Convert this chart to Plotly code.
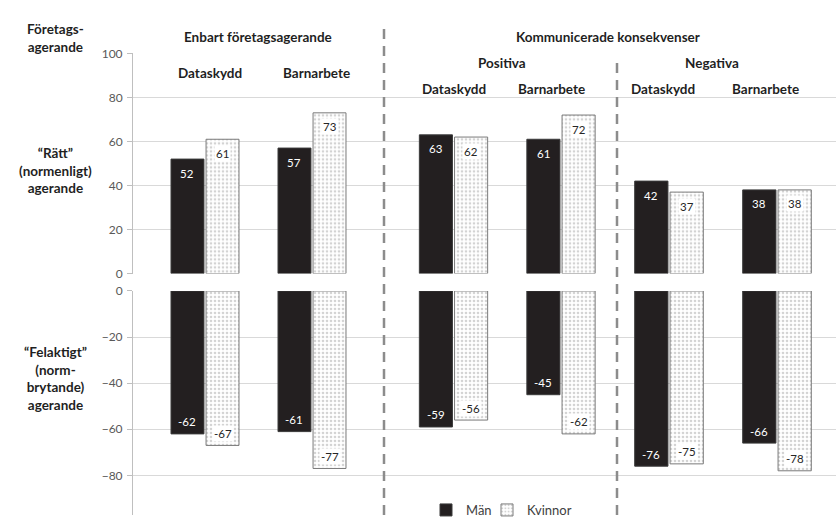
import plotly.graph_objects as go

# --- data -----------------------------------------------------------------
categories = ["Dataskydd", "Barnarbete"]
block_titles = ["Enbart företagsagerande", "Positiva", "Negativa"]

# "Rätt" (normenligt) agerande, per block: Dataskydd, Barnarbete
man_ratt = [52, 57, 63, 61, 42, 38]
kvinnor_ratt = [61, 73, 62, 72, 37, 38]
# "Felaktigt" (normbrytande) agerande
man_fel = [-62, -61, -59, -45, -76, -66]
kvinnor_fel = [-67, -77, -56, -62, -75, -78]

top_ticks = [0, 20, 40, 60, 80, 100]
bottom_ticks = [-80, -60, -40, -20, 0]

# --- layout geometry (pixels of the 837x525 canvas) ------------------------
W, H = 837, 525
BLOCK_EDGES = [(133, 384), (384, 617), (617, 836)]
BLOCK_CENTERS = [(205, 312), (453.5, 561), (669, 777)]
TOP_PX = (275, 47)          # y pixel of 0 and 100 in the upper panel
BOT_TOP_PX = 293            # y pixel of 0 in the lower panel
BOT_PX_PER_UNIT = 2.3875
BARGAP = 0.345
BARGROUPGAP = 0.06

FONT = "Lato"
GRID = "#d9d9d9"
AXIS = "#bfbfbf"
TEXT = "#1f1f1f"
MAN_COLOR = "#231f20"


def px(x):
    return x / W


def py(y):
    return 1 - y / H


fig = go.Figure()
layout_axes = {}
annotations = []

for b in range(3):
    left, right = BLOCK_EDGES[b]
    c0, c1 = BLOCK_CENTERS[b]
    unit = c1 - c0
    xrange_ = [-(c0 - left) / unit, 1 + (right - c1) / unit]
    offset_px = (1 - BARGAP) * unit / 4

    rows = [
        (man_ratt, kvinnor_ratt, [0, 100], (py(TOP_PX[0]), py(TOP_PX[1])), top_ticks),
        (man_fel, kvinnor_fel, [-(H - BOT_TOP_PX) / BOT_PX_PER_UNIT, 0],
         (0, py(BOT_TOP_PX)), bottom_ticks),
    ]
    for r, (mv, kv, yr, ydom, ticks) in enumerate(rows):
        idx = b + 1 + 3 * r
        xa = "x" if idx == 1 else f"x{idx}"
        ya = "y" if idx == 1 else f"y{idx}"
        m_vals = mv[2 * b:2 * b + 2]
        k_vals = kv[2 * b:2 * b + 2]

        fig.add_trace(go.Bar(
            x=categories, y=m_vals, xaxis=xa, yaxis=ya,
            name="Män", legend="legend", showlegend=(idx == 1),
            offsetgroup="m",
            marker=dict(color=MAN_COLOR, line=dict(color="#3a3a3a", width=1)),
            hoverinfo="skip",
        ))
        fig.add_trace(go.Bar(
            x=categories, y=k_vals, xaxis=xa, yaxis=ya,
            name="Kvinnor", legend="legend2", showlegend=(idx == 1),
            offsetgroup="k",
            marker=dict(
                color="white",
                line=dict(color="#7a7a7a", width=1),
                pattern=dict(shape=".", fgcolor="#a8a8a8", bgcolor="white",
                             size=4, solidity=0.35),
            ),
            hoverinfo="skip",
        ))

        # value labels inside the bar ends
        for cat, v in zip(categories, m_vals):
            annotations.append(dict(
                x=cat, y=v, xref=xa, yref=ya, text=str(v), showarrow=False,
                xshift=-offset_px, yshift=-14 if v > 0 else 12,
                font=dict(family=FONT, size=11.5, color="white"),
            ))
        for cat, v in zip(categories, k_vals):
            annotations.append(dict(
                x=cat, y=v, xref=xa, yref=ya, text=str(v), showarrow=False,
                xshift=offset_px, yshift=-14 if v > 0 else 12,
                bgcolor="white", borderpad=1,
                font=dict(family=FONT, size=11.5, color="#262626"),
            ))

        first = b == 0
        layout_axes["xaxis" if idx == 1 else f"xaxis{idx}"] = dict(
            domain=[px(left), px(right)], range=xrange_, anchor=ya,
            showticklabels=False, showgrid=False, showline=False,
            zeroline=False, ticks="", fixedrange=True,
        )
        layout_axes["yaxis" if idx == 1 else f"yaxis{idx}"] = dict(
            domain=list(ydom), range=yr, anchor=xa,
            tickmode="array", tickvals=ticks,
            showgrid=True, gridcolor=GRID, gridwidth=1, zeroline=False,
            showline=first, linecolor=AXIS, linewidth=1,
            ticks="outside" if first else "", ticklen=5, tickcolor=AXIS,
            showticklabels=first, ticklabelstandoff=2,
            tickfont=dict(family=FONT, size=12, color="#595959"),
            fixedrange=True,
        )

# --- headers and row labels -------------------------------------------------


def label(text, x, y, size=13.5):
    annotations.append(dict(
        text=f"<b>{text}</b>", x=px(x), y=py(y), xref="paper", yref="paper",
        showarrow=False, xanchor="center", yanchor="middle",
        font=dict(family=FONT, size=size, color=TEXT),
    ))


label("Företags-<br>agerande", 55, 31)
label(block_titles[0], 258, 30)
label("Kommunicerade konsekvenser", 608, 30)
label(block_titles[1], 502, 57)
label(block_titles[2], 712, 57)
label(categories[0], 210, 67)
label(categories[1], 316, 67)
label(categories[0], 454, 84)
label(categories[1], 551, 84)
label(categories[0], 663, 84)
label(categories[1], 765, 84)
label("“Rätt”<br>(normenligt)<br>agerande", 55, 168)
label("“Felaktigt”<br>(norm-<br>brytande)<br>agerande", 55, 384)

# --- dashed separators ------------------------------------------------------
shapes = [
    dict(type="line", xref="paper", yref="paper",
         x0=px(384), x1=px(384), y0=0, y1=py(19),
         line=dict(color="#8c8c8c", width=2.5, dash="10px,7px")),
    dict(type="line", xref="paper", yref="paper",
         x0=px(617), x1=px(617), y0=0, y1=py(51),
         line=dict(color="#8c8c8c", width=2.5, dash="10px,7px")),
]

legend_style = dict(
    orientation="h", y=py(520), xanchor="left", yanchor="middle",
    font=dict(family=FONT, size=13, color="#404040"),
    bgcolor="rgba(0,0,0,0)", itemwidth=30,
)

fig.update_layout(
    width=W, height=H,
    margin=dict(l=0, r=0, t=0, b=0),
    paper_bgcolor="white", plot_bgcolor="white",
    barmode="group", bargap=BARGAP, bargroupgap=BARGROUPGAP,
    font=dict(family=FONT, color=TEXT),
    showlegend=True,
    legend=dict(x=px(426), **legend_style),
    legend2=dict(x=px(487), **legend_style),
    annotations=annotations,
    shapes=shapes,
    **layout_axes,
)

fig.write_html("out.html")
